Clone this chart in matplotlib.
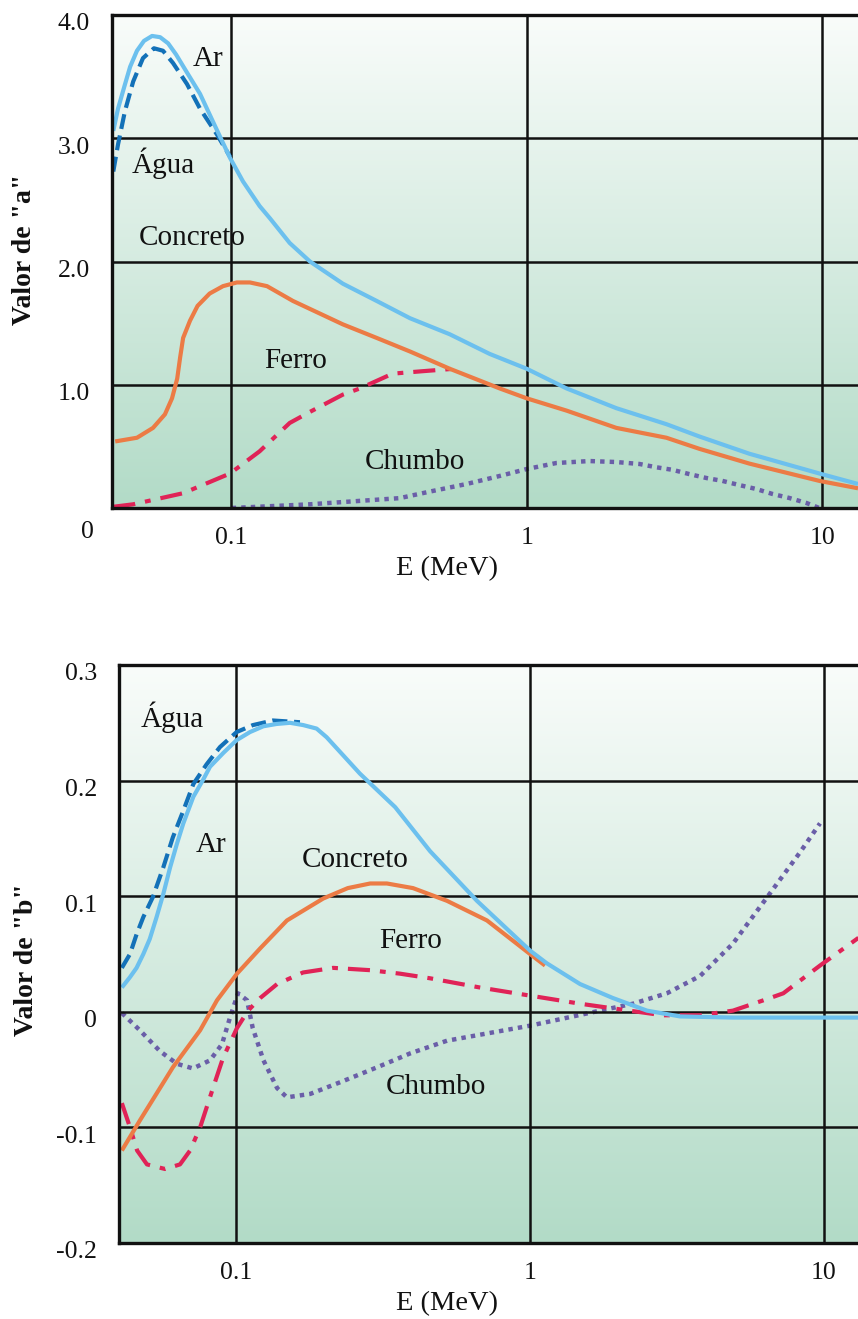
import numpy as np
import matplotlib
matplotlib.use("Agg")
import matplotlib.pyplot as plt
from matplotlib.transforms import ScaledTranslation

plt.rcParams['font.family'] = ['Liberation Serif', 'DejaVu Serif']

# ---------------- Panel a: values of "a" ----------------
ar_a_E = [0.0400, 0.0415, 0.0436, 0.0456, 0.0481, 0.0508, 0.0541, 0.0576, 0.0613, 0.0652,
          0.0699, 0.0786, 0.0883, 0.0993, 0.1098, 0.125, 0.1355, 0.158, 0.185, 0.239, 0.311,
          0.403, 0.549, 0.750, 1.0, 1.365, 2.01, 2.97, 3.84, 5.67, 9.77, 13.2]
ar_a = [3.06, 3.24, 3.42, 3.58, 3.71, 3.79, 3.83, 3.82, 3.77, 3.68,
        3.56, 3.36, 3.10, 2.84, 2.65, 2.45, 2.35, 2.15, 2.00, 1.82, 1.68,
        1.54, 1.41, 1.25, 1.13, 0.97, 0.81, 0.68, 0.58, 0.44, 0.28, 0.195]

agua_a_E = [0.0400, 0.0415, 0.0438, 0.0467, 0.0504, 0.0549, 0.0589, 0.0637, 0.0710, 0.0786,
            0.0897, 0.0993]
agua_a = [2.73, 2.95, 3.22, 3.46, 3.65, 3.73, 3.71, 3.61, 3.44, 3.24, 3.03, 2.85]

conc_a_E = [0.0406, 0.0481, 0.0545, 0.0598, 0.0632, 0.0658, 0.0673, 0.0689, 0.0727, 0.0771,
            0.0847, 0.0940, 0.1047, 0.1159, 0.1324, 0.162, 0.239, 0.311, 0.403, 0.549,
            0.811, 1.0, 1.365, 2.01, 2.97, 3.84, 5.67, 9.77, 13.2]
conc_a = [0.54, 0.57, 0.65, 0.76, 0.89, 1.05, 1.22, 1.38, 1.52, 1.64,
          1.74, 1.80, 1.83, 1.83, 1.80, 1.68, 1.49, 1.38, 1.27, 1.13,
          0.97, 0.89, 0.79, 0.65, 0.57, 0.48, 0.36, 0.22, 0.16]

ferro_a_E = [0.0400, 0.0467, 0.0532, 0.0689, 0.0993, 0.125, 0.158, 0.185, 0.239, 0.273,
             0.352, 0.445, 0.571]
ferro_a = [0.01, 0.03, 0.06, 0.12, 0.28, 0.46, 0.69, 0.78, 0.92, 0.97, 1.09, 1.11, 1.13]

chumbo_a_E = [0.1006, 0.185, 0.372, 0.481, 0.627, 0.811, 1.0, 1.26, 1.63, 2.01, 2.41, 2.75,
              3.11, 3.55, 4.06, 4.59, 5.24, 5.98, 6.78, 7.74, 8.83, 9.77]
chumbo_a = [0.00, 0.03, 0.08, 0.138, 0.195, 0.26, 0.316, 0.365, 0.381, 0.373, 0.357, 0.33,
            0.31, 0.275, 0.243, 0.22, 0.186, 0.154, 0.114, 0.081, 0.041, 0.0]

# ---------------- Panel b: values of "b" ----------------
ar_b_E = [0.0409, 0.0436, 0.0459, 0.0484, 0.0509, 0.0537, 0.0566, 0.0597, 0.0629, 0.0662,
          0.0716, 0.0774, 0.0816, 0.0906, 0.1005, 0.1116, 0.1239, 0.1375, 0.1527, 0.1694,
          0.188, 0.2034, 0.264, 0.348, 0.457, 0.660, 1.0, 1.14, 1.48, 1.91, 2.50, 3.24,
          4.90, 13.1]
ar_b = [0.021, 0.030, 0.038, 0.050, 0.063, 0.082, 0.102, 0.125, 0.145, 0.163,
        0.186, 0.201, 0.212, 0.224, 0.235, 0.242, 0.247, 0.249, 0.250, 0.248,
        0.245, 0.2375, 0.206, 0.177, 0.139, 0.096, 0.053, 0.042, 0.024, 0.012, 0.001, -0.004,
        -0.005, -0.005]

agua_b_E = [0.0409, 0.0436, 0.0459, 0.0484, 0.0521, 0.0566, 0.0610, 0.0662, 0.0716, 0.0794,
            0.0882, 0.1005, 0.1141, 0.1335, 0.165]
agua_b = [0.038, 0.050, 0.067, 0.082, 0.099, 0.125, 0.151, 0.174, 0.197, 0.214,
          0.229, 0.242, 0.248, 0.252, 0.2505]

conc_b_E = [0.0409, 0.0471, 0.0610, 0.0755, 0.0862, 0.1008, 0.121, 0.149, 0.198, 0.240,
            0.286, 0.326, 0.400, 0.522, 0.714, 1.0, 1.125]
conc_b = [-0.120, -0.094, -0.048, -0.016, 0.010, 0.033, 0.055, 0.079, 0.098, 0.107,
          0.111, 0.111, 0.107, 0.096, 0.079, 0.050, 0.040]

ferro_b_E = [0.0409, 0.0436, 0.0461, 0.0498, 0.0574, 0.0645, 0.0698, 0.0755, 0.0835, 0.0903,
             0.1008, 0.1099, 0.121, 0.138, 0.169, 0.214, 0.286, 0.361, 0.457, 0.676, 1.0,
             1.48, 1.91, 2.83, 3.79, 4.90, 6.40, 7.27, 9.69, 13.1]
ferro_b = [-0.079, -0.100, -0.120, -0.132, -0.136, -0.132, -0.120, -0.100, -0.066, -0.040,
           -0.014, 0.001, 0.012, 0.024, 0.034, 0.038, 0.036, 0.033, 0.029, 0.021, 0.014,
           0.007, 0.003, -0.003, -0.003, 0.001, 0.011, 0.016, 0.040, 0.064]

chumbo_b_E = [0.0409, 0.0471, 0.0551, 0.0630, 0.0714, 0.0816, 0.0896, 0.0954, 0.1016, 0.109,
              0.114, 0.124, 0.138, 0.149, 0.179, 0.231, 0.302, 0.391, 0.522, 1.0, 1.73,
              2.24, 2.92, 3.79, 4.90, 6.40, 8.29, 9.69]
chumbo_b = [-0.001, -0.016, -0.034, -0.045, -0.049, -0.042, -0.028, -0.005, 0.016, 0.010,
            -0.014, -0.042, -0.066, -0.074, -0.071, -0.060, -0.048, -0.036, -0.025, -0.012,
            0.001, 0.007, 0.016, 0.031, 0.059, 0.099, 0.138, 0.163]

x_ticks = [0.1, 1, 10]
x_ticklabels = ["0.1", "1", "10"]
a_ticks = [1.0, 2.0, 3.0, 4.0]
a_ticklabels = ["1.0", "2.0", "3.0", "4.0"]
b_ticks = [-0.2, -0.1, 0.0, 0.1, 0.2, 0.3]
b_ticklabels = ["-0.2", "-0.1", "0", "0.1", "0.2", "0.3"]

# ---------------- styling ----------------
C_AR = "#6cc0ee"
C_AGUA = "#1371b8"
C_CONC = "#ec7b45"
C_FERRO = "#e02357"
C_CHUMBO = "#6a5ea8"
C_INK = "#111111"
LW = 3.0
DASH_AGUA = (0, (3.6, 1.6))
DASHDOT_FERRO = (0, (5.3, 2.4, 1.4, 2.4))
DOT_CHUMBO = (0, (1.0, 1.15))

W, H, DPI = 858, 1319, 100
fig = plt.figure(figsize=(W / DPI, H / DPI), dpi=DPI)

ax_a = fig.add_axes([112 / W, 1 - 508 / H, (W - 112) / W, (508 - 15) / H])
ax_b = fig.add_axes([119 / W, 1 - 1243 / H, (W - 119) / W, (1243 - 665) / H])

top_rgb = np.array([249, 252, 250]) / 255
bot_rgb = np.array([178, 219, 199]) / 255
t = np.linspace(0, 1, 256)[:, None]
grad = (top_rgb[None, :] * (1 - t) + bot_rgb[None, :] * t)[:, None, :]


def style_axes(ax, xlim, ylim, yticks, yticklabels):
    ax.set_xscale("log")
    ax.set_xlim(*xlim)
    ax.set_ylim(*ylim)
    ax.imshow(grad, extent=[0, 1, 0, 1], transform=ax.transAxes, aspect="auto",
              zorder=0, interpolation="bicubic")
    ax.set_xticks(x_ticks)
    ax.set_xticklabels(x_ticklabels)
    ax.xaxis.set_minor_locator(matplotlib.ticker.NullLocator())
    ax.set_yticks(yticks)
    ax.set_yticklabels(yticklabels)
    ax.tick_params(axis="both", length=0, labelsize=18.5, colors=C_INK)
    ax.tick_params(axis="x", pad=14)
    ax.tick_params(axis="y", pad=16)
    ax.grid(True, color=C_INK, lw=1.8, zorder=1)
    ax.set_axisbelow(False)
    for s in ("left", "bottom", "top"):
        ax.spines[s].set_linewidth(2.4)
        ax.spines[s].set_color(C_INK)
        ax.spines[s].set_zorder(5)
    ax.spines["right"].set_visible(False)
    shift = ScaledTranslation(0, -5 / 72, fig.dpi_scale_trans)
    for lab in ax.get_yticklabels():
        lab.set_transform(lab.get_transform() + shift)


def draw(ax, E, v, color, ls, z, lw=LW):
    ax.plot(E, v, color=color, lw=lw, ls=ls, zorder=z, solid_capstyle="butt",
            dash_capstyle="butt", solid_joinstyle="round")


# panel a
style_axes(ax_a, (0.0396, 13.2), (0, 4.0), a_ticks, a_ticklabels)
draw(ax_a, chumbo_a_E, chumbo_a, C_CHUMBO, DOT_CHUMBO, 2, lw=3.2)
draw(ax_a, ferro_a_E, ferro_a, C_FERRO, DASHDOT_FERRO, 3)
draw(ax_a, conc_a_E, conc_a, C_CONC, "-", 4)
draw(ax_a, agua_a_E, agua_a, C_AGUA, DASH_AGUA, 4)
draw(ax_a, ar_a_E, ar_a, C_AR, "-", 4)
ax_a.annotate("0", xy=(0, 0), xycoords=("axes fraction", "data"), xytext=(-18, -17),
              textcoords="offset points", ha="center", va="center", fontsize=18.5,
              color=C_INK)
ax_a.set_xlabel("E (MeV)", fontsize=20.5, color=C_INK)
ax_a.xaxis.set_label_coords(0.449, -0.098)
ax_a.set_ylabel('Valor de "a"', fontsize=20, fontweight="bold", color=C_INK)
ax_a.yaxis.set_label_coords(-0.101, 0.525)

lab_kw = dict(fontsize=21, ha="center", va="center", color=C_INK, zorder=6)
ax_a.text(0.0836, 3.64, "Ar", **lab_kw)
ax_a.text(0.0589, 2.80, "Água", **lab_kw)
ax_a.text(0.0738, 2.19, "Concreto", **lab_kw)
ax_a.text(0.166, 1.19, "Ferro", **lab_kw)
ax_a.text(0.418, 0.37, "Chumbo", **lab_kw)

# panel b
style_axes(ax_b, (0.0400, 13.05), (-0.2, 0.3), b_ticks, b_ticklabels)
draw(ax_b, chumbo_b_E, chumbo_b, C_CHUMBO, DOT_CHUMBO, 2, lw=3.2)
draw(ax_b, ferro_b_E, ferro_b, C_FERRO, DASHDOT_FERRO, 3)
draw(ax_b, conc_b_E, conc_b, C_CONC, "-", 4)
draw(ax_b, agua_b_E, agua_b, C_AGUA, DASH_AGUA, 4)
draw(ax_b, ar_b_E, ar_b, C_AR, "-", 4)
ax_b.set_xlabel("E (MeV)", fontsize=20.5, color=C_INK)
ax_b.xaxis.set_label_coords(0.444, -0.083)
ax_b.set_ylabel('Valor de "b"', fontsize=20, fontweight="bold", color=C_INK)
ax_b.yaxis.set_label_coords(-0.108, 0.49)

ax_b.text(0.0606, 0.2545, "Água", **lab_kw)
ax_b.text(0.0822, 0.144, "Ar", **lab_kw)
ax_b.text(0.254, 0.131, "Concreto", **lab_kw)
ax_b.text(0.394, 0.061, "Ferro", **lab_kw)
ax_b.text(0.479, -0.065, "Chumbo", **lab_kw)

fig.savefig("out.png", dpi=DPI)
